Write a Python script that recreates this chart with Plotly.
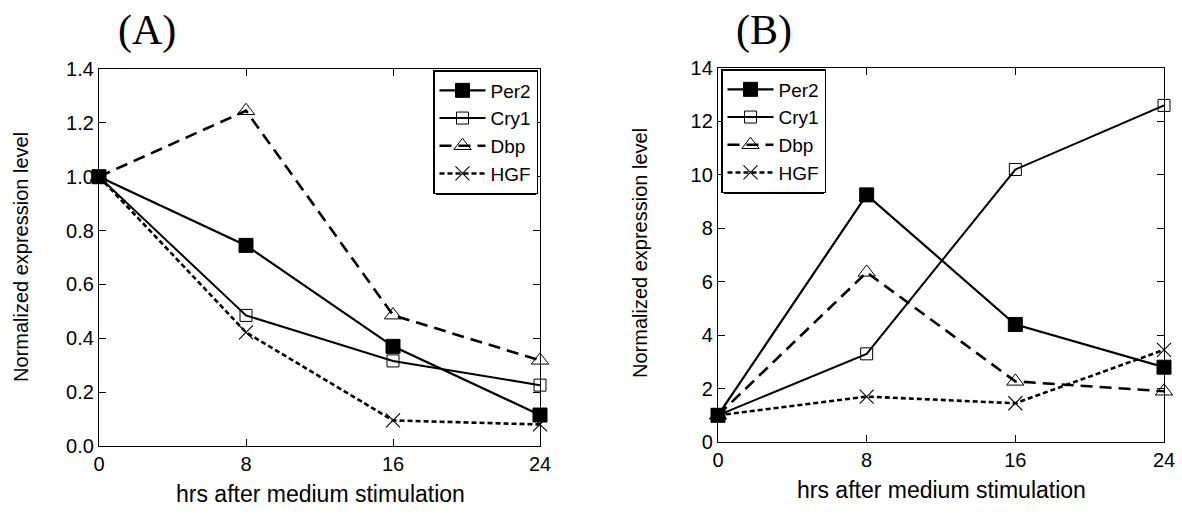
import plotly.graph_objects as go

hours = [0, 8, 16, 24]
genes = ["Per2", "Cry1", "Dbp", "HGF"]

# Panel A values
a_per2 = [1.0, 0.745, 0.37, 0.115]
a_cry1 = [1.0, 0.485, 0.316, 0.226]
a_dbp = [1.0, 1.245, 0.486, 0.318]
a_hgf = [1.0, 0.422, 0.095, 0.08]

# Panel B values
b_per2 = [1.0, 9.25, 4.4, 2.8]
b_cry1 = [1.0, 3.3, 10.2, 12.6]
b_dbp = [1.0, 6.35, 2.27, 1.9]
b_hgf = [1.0, 1.7, 1.45, 3.45]

a_ticks = [0.0, 0.2, 0.4, 0.6, 0.8, 1.0, 1.2, 1.4]
b_ticks = [0, 2, 4, 6, 8, 10, 12, 14]
x_ticks = [0, 8, 16, 24]

W, H = 1182, 514
FONT = "Liberation Sans, Arial, sans-serif"
SERIF = "Liberation Serif, Times New Roman, serif"

styles = {
    "Per2": dict(line=dict(color="black", width=2.2, dash="solid"),
                 marker=dict(symbol="square", size=14, color="black",
                             line=dict(color="black", width=1))),
    "Cry1": dict(line=dict(color="black", width=2.0, dash="solid"),
                 marker=dict(symbol="square-open", size=12, color="black",
                             line=dict(color="black", width=1))),
    "Dbp": dict(line=dict(color="black", width=2.6, dash="12px,7px"),
                marker=dict(symbol="triangle-up-open", size=15, color="black",
                            line=dict(color="black", width=1))),
    "HGF": dict(line=dict(color="black", width=2.6, dash="5px,3px"),
                marker=dict(symbol="x-thin-open", size=14, color="black",
                            line=dict(color="black", width=1.1))),
}

fig = go.Figure()
for name, vals in zip(genes, [a_per2, a_cry1, a_dbp, a_hgf]):
    fig.add_trace(go.Scatter(x=hours, y=vals, name=name, mode="lines+markers",
                             xaxis="x", yaxis="y", legend="legend",
                             cliponaxis=False, **styles[name]))
for name, vals in zip(genes, [b_per2, b_cry1, b_dbp, b_hgf]):
    fig.add_trace(go.Scatter(x=hours, y=vals, name=name, mode="lines+markers",
                             xaxis="x2", yaxis="y2", legend="legend2",
                             cliponaxis=False, **styles[name]))


def px_x(p):
    return p / W


def px_y(p):
    return 1 - p / H


axis_common = dict(showline=True, linecolor="black", linewidth=1.3, mirror="ticks",
                   ticks="inside", ticklen=7, tickwidth=1, tickcolor="black",
                   showgrid=False, zeroline=False, automargin=False,
                   tickfont=dict(family=FONT, size=20, color="black"))

legend_common = dict(xanchor="left", yanchor="top", bgcolor="white",
                     bordercolor="black", borderwidth=1.5,
                     font=dict(family=FONT, size=19, color="black"),
                     tracegroupgap=0, itemwidth=46)

fig.update_layout(
    template="none",
    width=W, height=H,
    margin=dict(l=0, r=0, t=0, b=0, pad=0),
    paper_bgcolor="white", plot_bgcolor="white",
    font=dict(family=FONT, color="black"),
    xaxis=dict(domain=[px_x(99), px_x(540)], range=[0, 24], tickvals=x_ticks,
               anchor="y", **axis_common),
    yaxis=dict(domain=[px_y(446), px_y(69)], range=[0, 1.4], tickvals=a_ticks,
               tickformat=".1f", anchor="x", **axis_common),
    xaxis2=dict(domain=[px_x(718), px_x(1164)], range=[0, 24], tickvals=x_ticks,
                anchor="y2", **axis_common),
    yaxis2=dict(domain=[px_y(442), px_y(68)], range=[0, 14], tickvals=b_ticks,
                anchor="x2", **axis_common),
    legend=dict(x=px_x(433), y=px_y(70), **legend_common),
    legend2=dict(x=px_x(721), y=px_y(69), **legend_common),
    showlegend=True,
)

# legend drop shadows (pixel boxes, offset by 3px)
shadow_boxes = [(433, 70, 533, 192), (721, 69, 821, 191)]
for (l, t, r, b) in shadow_boxes:
    fig.add_shape(type="rect", xref="paper", yref="paper", layer="above",
                  x0=px_x(l + 3), x1=px_x(r + 3), y0=px_y(b + 3), y1=px_y(t + 3),
                  fillcolor="black", line=dict(width=0))

annotations = [
    dict(text="(A)", x=px_x(147), y=px_y(30)),
    dict(text="(B)", x=px_x(764), y=px_y(30)),
    dict(text="hrs after medium stimulation", x=px_x(320), y=px_y(494)),
    dict(text="hrs after medium stimulation", x=px_x(941), y=px_y(490)),
    dict(text="Normalized expression level", x=px_x(21), y=px_y(257), textangle=-90),
    dict(text="Normalized expression level", x=px_x(640), y=px_y(253), textangle=-90),
]
for i, a in enumerate(annotations):
    a.update(xref="paper", yref="paper", showarrow=False,
             xanchor="center", yanchor="middle")
    if i < 2:
        a["font"] = dict(family=SERIF, size=42, color="black")
    elif i < 4:
        a["font"] = dict(family=FONT, size=23, color="black")
    else:
        a["font"] = dict(family=FONT, size=20, color="black")
fig.update_layout(annotations=annotations)

fig.write_html("out.html", config={"displayModeBar": False},
               post_script="document.body.style.margin='0';")
